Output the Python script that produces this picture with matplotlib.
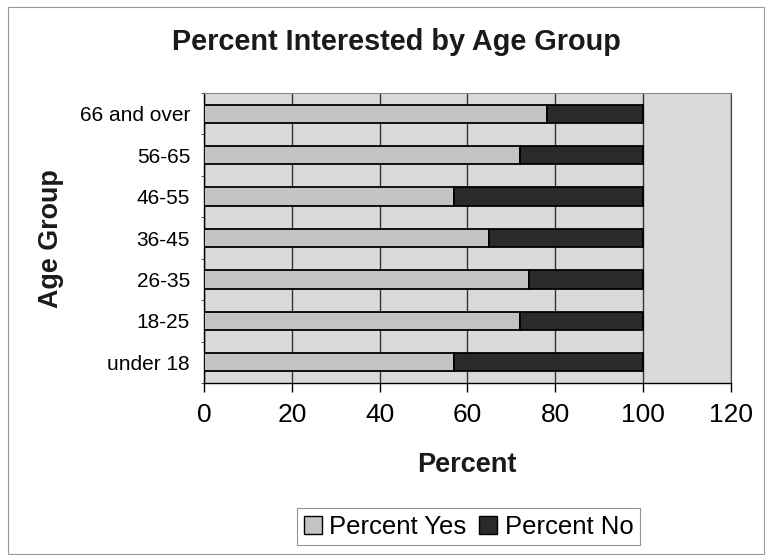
import matplotlib
matplotlib.use('Agg')
import matplotlib.pyplot as plt
from matplotlib.patches import Patch, Rectangle
import numpy as np

AGE_GROUPS = ['under 18', '18-25', '26-35', '36-45', '46-55', '56-65', '66 and over']
PERCENT_YES = [57, 72, 74, 65, 57, 72, 78]
PERCENT_NO = [43, 28, 26, 35, 43, 28, 22]
X_TICKS = [0, 20, 40, 60, 80, 100, 120]

BG_COLOR = '#dadada'
YES_COLOR = '#c3c3c3'
NO_COLOR = '#2a2a2a'

plt.rcParams['font.family'] = ['Liberation Sans', 'DejaVu Sans']

fig = plt.figure(figsize=(7.66, 5.55), dpi=100)
ax = fig.add_axes([0.2663, 0.3099, 0.6880, 0.5225])
ax.set_facecolor(BG_COLOR)

pos = np.arange(len(AGE_GROUPS))
ax.barh(pos, PERCENT_YES, height=0.44, color=YES_COLOR, edgecolor='black',
        linewidth=1.3, label='Percent Yes', zorder=3)
ax.barh(pos, PERCENT_NO, left=PERCENT_YES, height=0.44, color=NO_COLOR,
        edgecolor='black', linewidth=1.3, label='Percent No', zorder=3)

ax.set_xlim(0, 120)
ax.set_ylim(-0.5, len(AGE_GROUPS) - 0.5)
ax.set_xticks(X_TICKS)
ax.set_xticklabels([str(t) for t in X_TICKS], fontsize=19)
ax.set_yticks(pos)
ax.set_yticklabels(AGE_GROUPS, fontsize=15)
ax.set_yticks(np.arange(len(AGE_GROUPS) + 1) - 0.5, minor=True)

ax.tick_params(axis='x', direction='out', length=6.5, width=1, pad=8)
ax.tick_params(axis='y', which='major', length=0, pad=10)
ax.tick_params(axis='y', which='minor', direction='out', length=2.5, width=0.7,
               color='#555555')

# dark vertical gridlines behind the bars
ax.grid(axis='x', color='#333333', linewidth=1.0, zorder=1)
ax.set_axisbelow(True)

for side in ['left', 'bottom']:
    ax.spines[side].set_color('black')
    ax.spines[side].set_linewidth(1.0)
ax.spines['right'].set_color('#444444')
ax.spines['top'].set_color('#888888')
ax.spines['top'].set_linestyle((0, (4, 1)))

fig.text(0.517, 0.925, 'Percent Interested by Age Group', ha='center', va='center',
         fontsize=20.8, fontweight='bold', color='#1a1a1a')
fig.text(0.61, 0.162, 'Percent', ha='center', va='center', fontsize=19.5,
         fontweight='bold', color='#1a1a1a')
fig.text(0.066, 0.57, 'Age Group', ha='center', va='center', rotation=90,
         fontsize=19.4, fontweight='bold', color='#1a1a1a')

handles = [Patch(facecolor=YES_COLOR, edgecolor='black', linewidth=1.0, label='Percent Yes'),
           Patch(facecolor=NO_COLOR, edgecolor='black', linewidth=1.0, label='Percent No')]
leg = fig.legend(handles=handles, loc='center', bbox_to_anchor=(0.612, 0.051), ncol=2,
                 fontsize=18.5, frameon=True, fancybox=False, handlelength=0.7,
                 handleheight=0.7, handletextpad=0.3, columnspacing=0.5,
                 borderpad=0.25, borderaxespad=0)
leg.get_frame().set_edgecolor('#777777')
leg.get_frame().set_linewidth(0.8)

# thin frame around the whole chart
fig.patches.append(Rectangle((0.011, 0.002), 0.987, 0.986, transform=fig.transFigure,
                             fill=False, edgecolor='#999999', linewidth=0.8))

fig.savefig('out.png', dpi=100)
